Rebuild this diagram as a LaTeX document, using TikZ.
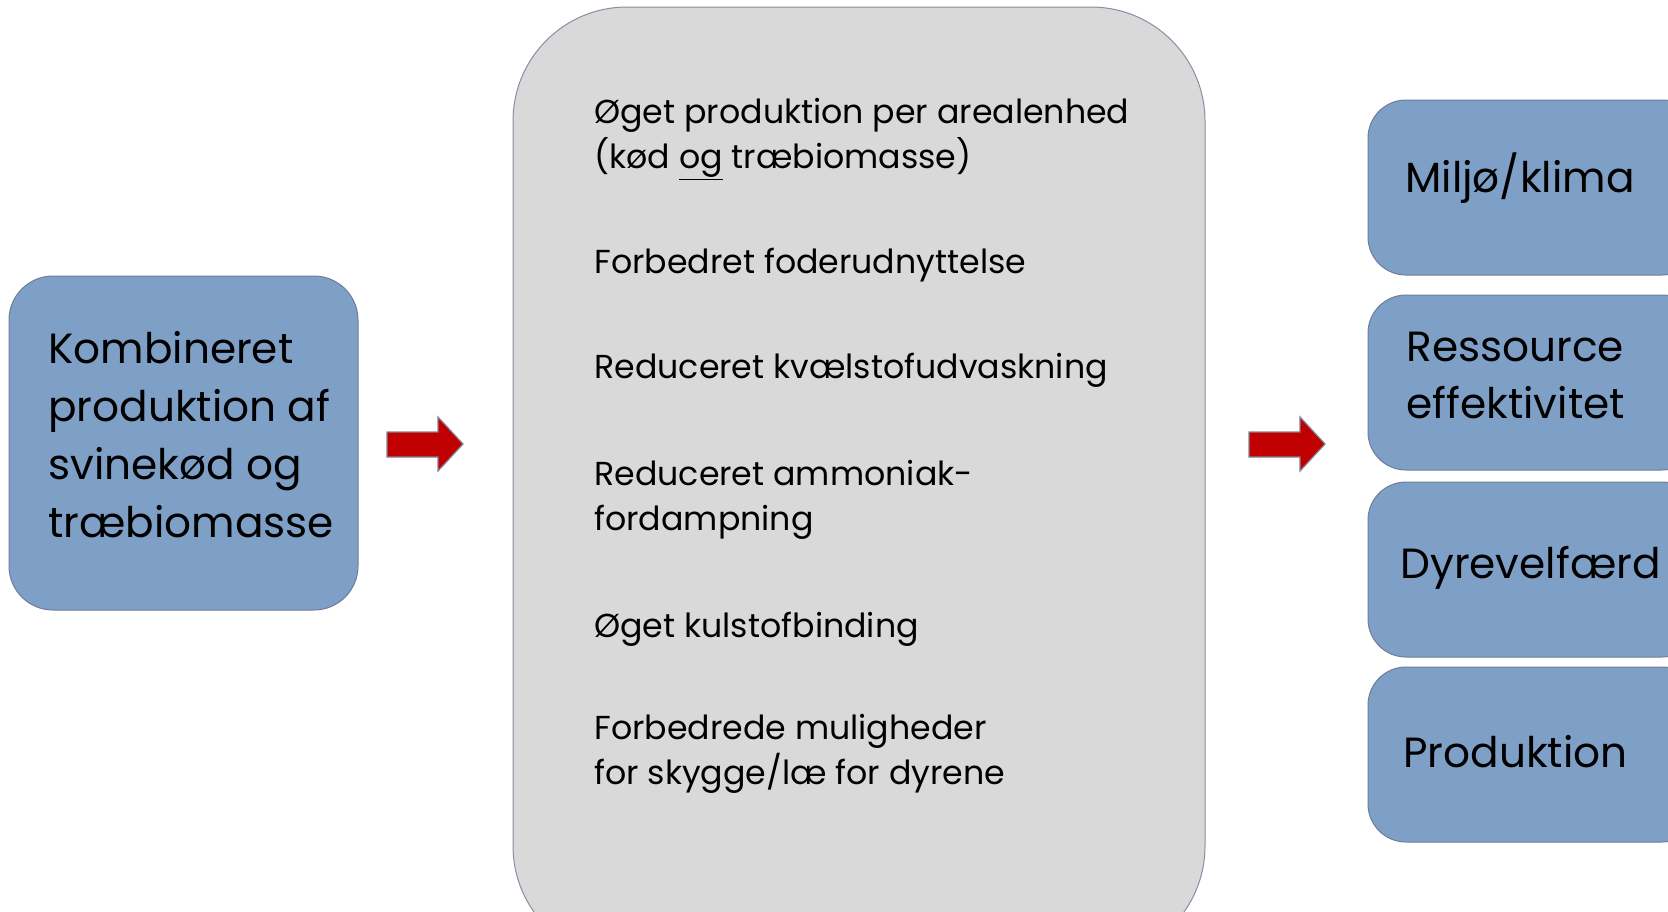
\documentclass[tikz,border=0pt]{standalone}
\usepackage{fontspec}
\setmainfont{Poppins}
\definecolor{boxblue}{RGB}{126,159,198}
\definecolor{boxedge}{RGB}{112,124,152}
\definecolor{midfill}{RGB}{217,217,217}
\definecolor{midedge}{RGB}{140,140,165}
\definecolor{arrowred}{RGB}{192,0,0}
\definecolor{arrowedge}{RGB}{130,130,150}
\tikzset{
  bluebox/.style={fill=boxblue, draw=boxedge, line width=0.5pt},
  midbox/.style={fill=midfill, draw=midedge, line width=0.5pt, rounded corners=57pt},
  blockarrow/.style={fill=arrowred, draw=arrowedge, line width=0.6pt},
  bigtxt/.style={anchor=base west, inner sep=0pt, font=\fontsize{21.1}{25}\selectfont},
  midtxt/.style={anchor=base west, inner sep=0pt, font=\fontsize{16.6}{20}\selectfont},
}
\begin{document}
\begin{tikzpicture}[x=0.5pt,y=-0.5pt]
\useasboundingbox (0,0) rectangle (1668,911);
\clip (0,0) rectangle (1668,911);
% left box
\draw[bluebox, rounded corners=22pt] (9,276) rectangle (358,610);
\node[bigtxt] (l1) at (48,363) {Kombineret};
\node[bigtxt] (l2) at (48,421) {produktion af};
\node[bigtxt] (l3) at (48,479) {svinekød og};
\node[bigtxt] (l4) at (48,537) {træbiomasse};
% arrows
\draw[blockarrow] (387,432) -- (438,432) -- (438,417) -- (463,444) -- (438,471) -- (438,457) -- (387,457) -- cycle;
\draw[blockarrow] (1249,432) -- (1300,432) -- (1300,417) -- (1325,444) -- (1300,471) -- (1300,457) -- (1249,457) -- cycle;
% middle box
\draw[midbox] (513,7) rectangle (1205,960);
\node[midtxt] (m1) at (594,123) {Øget produktion per arealenhed};
\node[midtxt] (m2) at (594,168) {(kød \underline{og} træbiomasse)};
\node[midtxt] (m3) at (594,273) {Forbedret foderudnyttelse};
\node[midtxt] (m4) at (594,378) {Reduceret kvælstofudvaskning};
\node[midtxt] (m5) at (594,485) {Reduceret ammoniak-};
\node[midtxt] (m6) at (594,530) {fordampning};
\node[midtxt] (m7) at (594,637) {Øget kulstofbinding};
\node[midtxt] (m8) at (594,739) {Forbedrede muligheder};
\node[midtxt] (m9) at (594,784) {for skygge/læ for dyrene};
% right boxes
\draw[bluebox, rounded corners=19pt] (1368,100) rectangle (1700,275);
\draw[bluebox, rounded corners=19pt] (1368,295) rectangle (1700,470);
\draw[bluebox, rounded corners=19pt] (1368,482) rectangle (1700,657);
\draw[bluebox, rounded corners=19pt] (1368,667) rectangle (1700,842);
\node[bigtxt] (r1) at (1405,192) {Miljø/klima};
\node[bigtxt] (r2a) at (1406,361) {Ressource};
\node[bigtxt] (r2b) at (1406,418) {effektivitet};
\node[bigtxt] (r3) at (1400,578) {Dyrevelfærd};
\node[bigtxt] (r4) at (1403,767) {Produktion};
\end{tikzpicture}
\end{document}
